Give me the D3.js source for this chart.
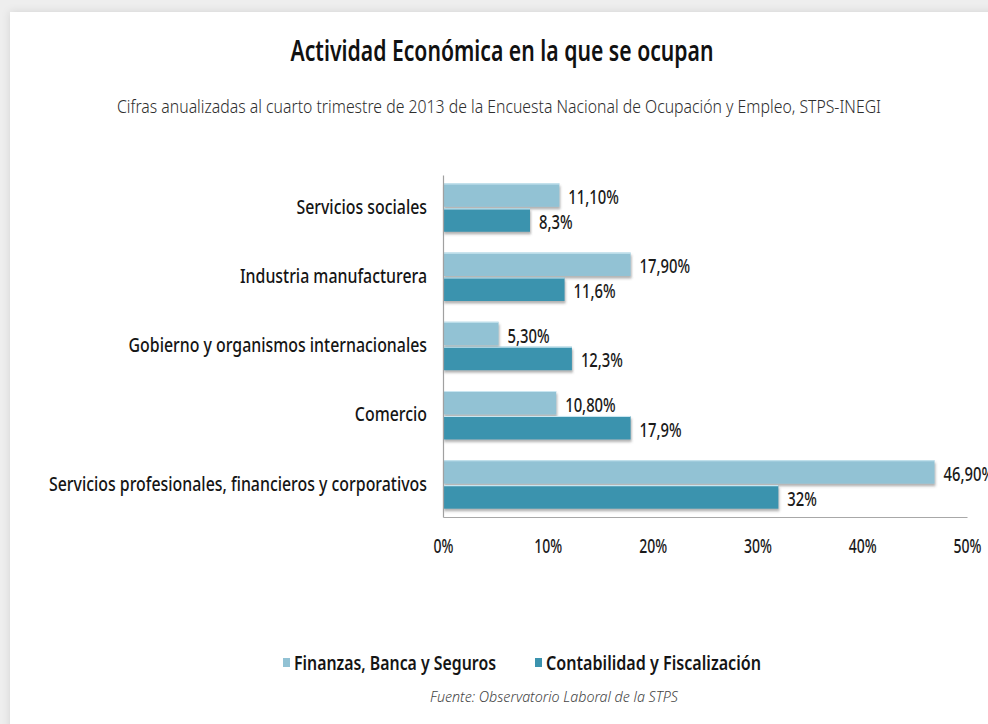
<!DOCTYPE html>
<html>
<head>
<meta charset="utf-8">
<script src="https://cdn.jsdelivr.net/npm/d3@7"></script>
<style>
  html, body { margin: 0; padding: 0; background: #eeeeee; }
  svg { display: block; }
</style>
</head>
<body>
<svg id="chart" width="988" height="724"></svg>
<script>
// Sectores de actividad económica (de arriba a abajo)
const categories = [
  "Servicios sociales",
  "Industria manufacturera",
  "Gobierno y organismos internacionales",
  "Comercio",
  "Servicios profesionales, financieros y corporativos"
];
const seriesNames = ["Finanzas, Banca y Seguros", "Contabilidad y Fiscalización"];
const finanzas = [11.1, 17.9, 5.3, 10.8, 46.9];
const contabilidad = [8.3, 11.6, 12.3, 17.9, 32];
const xTicks = [0, 10, 20, 30, 40, 50];

const title = "Actividad Económica en la que se ocupan";
const subtitle = "Cifras anualizadas al cuarto trimestre de 2013 de la Encuesta Nacional de Ocupación y Empleo, STPS-INEGI";
const source = "Fuente: Observatorio Laboral de la STPS";

const colors = ["#92c2d4", "#3b93ae"];
const FONT = "'Noto Sans', 'DejaVu Sans', sans-serif";

// Las cifras de la primera serie se publican con dos decimales, las de la segunda tal cual
const fmtFin = v => d3.format(".2f")(v).replace(".", ",") + "%";
const fmtCont = v => String(v).replace(".", ",") + "%";
const formats = [fmtFin, fmtCont];

const rows = categories.map((c, i) => ({
  category: c,
  values: [finanzas[i], contabilidad[i]]
}));

const svg = d3.select("#chart");

// Sombra suave del marco y de las barras
const defs = svg.append("defs");
const cardShadow = defs.append("filter").attr("id", "cardShadow")
  .attr("x", "-5%").attr("y", "-5%").attr("width", "110%").attr("height", "110%");
cardShadow.append("feDropShadow").attr("dx", 0).attr("dy", 0)
  .attr("stdDeviation", 4).attr("flood-color", "#000").attr("flood-opacity", 0.12);
const barShadow = defs.append("filter").attr("id", "barShadow")
  .attr("x", "-5%").attr("y", "-30%").attr("width", "110%").attr("height", "170%");
barShadow.append("feDropShadow").attr("dx", 1).attr("dy", 2.5)
  .attr("stdDeviation", 1).attr("flood-color", "#555").attr("flood-opacity", 0.45);

svg.append("rect").attr("x", 10).attr("y", 12).attr("width", 1000).attr("height", 740)
  .attr("fill", "#ffffff").attr("filter", "url(#cardShadow)");

// Ajusta el ancho de un texto comprimiéndolo horizontalmente
function fitWidth(sel, width) {
  sel.attr("textLength", width).attr("lengthAdjust", "spacingAndGlyphs");
}
function compress(sel, k) {
  sel.each(function () {
    const w = this.getComputedTextLength();
    d3.select(this).attr("textLength", w * k).attr("lengthAdjust", "spacingAndGlyphs");
  });
}

// Títulos
const t = svg.append("text").attr("x", 502).attr("y", 61).attr("text-anchor", "middle")
  .attr("font-family", FONT).attr("font-size", 28).attr("font-weight", 600)
  .attr("fill", "#111").text(title);
fitWidth(t, 423);

const st = svg.append("text").attr("x", 499).attr("y", 113).attr("text-anchor", "middle")
  .attr("font-family", FONT).attr("font-size", 18.5).attr("font-weight", 300)
  .attr("fill", "#2e2e2e").text(subtitle);
fitWidth(st, 764);

// Escalas
const x = d3.scaleLinear().domain([0, 50]).range([443, 967]);
const y0 = d3.scaleBand().domain(categories).range([175, 517])
  .paddingInner(0.3).paddingOuter(0.12);
const y1 = d3.scaleBand().domain(seriesNames).range([0, y0.bandwidth()]).paddingInner(0.06);

// Barras
const groups = svg.append("g").selectAll("g").data(rows).join("g")
  .attr("transform", d => `translate(0,${y0(d.category)})`);

groups.selectAll("rect.bar").data(d => d.values.map((v, j) => ({ v, j })))
  .join("rect").attr("class", "bar")
  .attr("x", x(0))
  .attr("y", d => y1(seriesNames[d.j]))
  .attr("width", d => x(d.v) - x(0))
  .attr("height", y1.bandwidth())
  .attr("fill", d => colors[d.j])
  .attr("filter", "url(#barShadow)");

// Brillo en el borde superior de cada barra
groups.selectAll("line.hl").data(d => d.values.map((v, j) => ({ v, j })))
  .join("line").attr("class", "hl")
  .attr("x1", x(0)).attr("x2", d => x(d.v))
  .attr("y1", d => y1(seriesNames[d.j]) + 0.5)
  .attr("y2", d => y1(seriesNames[d.j]) + 0.5)
  .attr("stroke", "#c9e6f1").attr("stroke-width", 1.2);

// Etiquetas de valor
const valueLabels = groups.selectAll("text.val").data(d => d.values.map((v, j) => ({ v, j })))
  .join("text").attr("class", "val")
  .attr("x", d => x(d.v) + 9)
  .attr("y", d => y1(seriesNames[d.j]) + y1.bandwidth() / 2 + 2)
  .attr("dy", "0.35em")
  .attr("font-family", FONT).attr("font-size", 20).attr("font-weight", 500)
  .attr("fill", "#1a1a1a")
  .text(d => formats[d.j](d.v));
compress(valueLabels, 0.74);

// Eje Y
const yAxis = svg.append("g").attr("transform", `translate(${x(0)},0)`)
  .call(d3.axisLeft(y0).tickSize(0).tickPadding(16));
yAxis.select(".domain").attr("stroke", "#a0a0a0").attr("stroke-width", 1.2);
const catLabels = yAxis.selectAll(".tick text")
  .attr("font-family", FONT).attr("font-size", 19).attr("font-weight", 500)
  .attr("fill", "#151515");
{
  let longest = 0;
  catLabels.each(function () { longest = Math.max(longest, this.getComputedTextLength()); });
  compress(catLabels, 378 / longest);
}

// Eje X
const xAxis = svg.append("g").attr("transform", `translate(0,517)`)
  .call(d3.axisBottom(x).tickValues(xTicks).tickFormat(d => d + "%").tickSize(0).tickPadding(22));
xAxis.select(".domain").attr("stroke", "#a8a8a8").attr("stroke-width", 1.2);
const tickLabels = xAxis.selectAll(".tick text")
  .attr("font-family", FONT).attr("font-size", 20).attr("font-weight", 500)
  .attr("fill", "#1a1a1a");
compress(tickLabels, 0.7);

// Leyenda
const legendX = [283, 535];
const legendWidths = [202, 215];
const legend = svg.append("g").selectAll("g").data(seriesNames).join("g")
  .attr("transform", (d, i) => `translate(${legendX[i]},658)`);
legend.append("rect").attr("width", 7).attr("height", 9).attr("fill", (d, i) => colors[i]);
legend.append("text").attr("x", 11).attr("y", 5).attr("dy", "0.35em")
  .attr("font-family", FONT).attr("font-size", 19.5).attr("font-weight", 600)
  .attr("fill", "#151515").text(d => d)
  .each(function (d, i) { fitWidth(d3.select(this), legendWidths[i]); });

// Fuente
const src = svg.append("text").attr("x", 430).attr("y", 702)
  .attr("font-family", FONT).attr("font-size", 15).attr("font-style", "italic")
  .attr("font-weight", 300).attr("fill", "#444").text(source);
fitWidth(src, 248);
</script>
</body>
</html>
